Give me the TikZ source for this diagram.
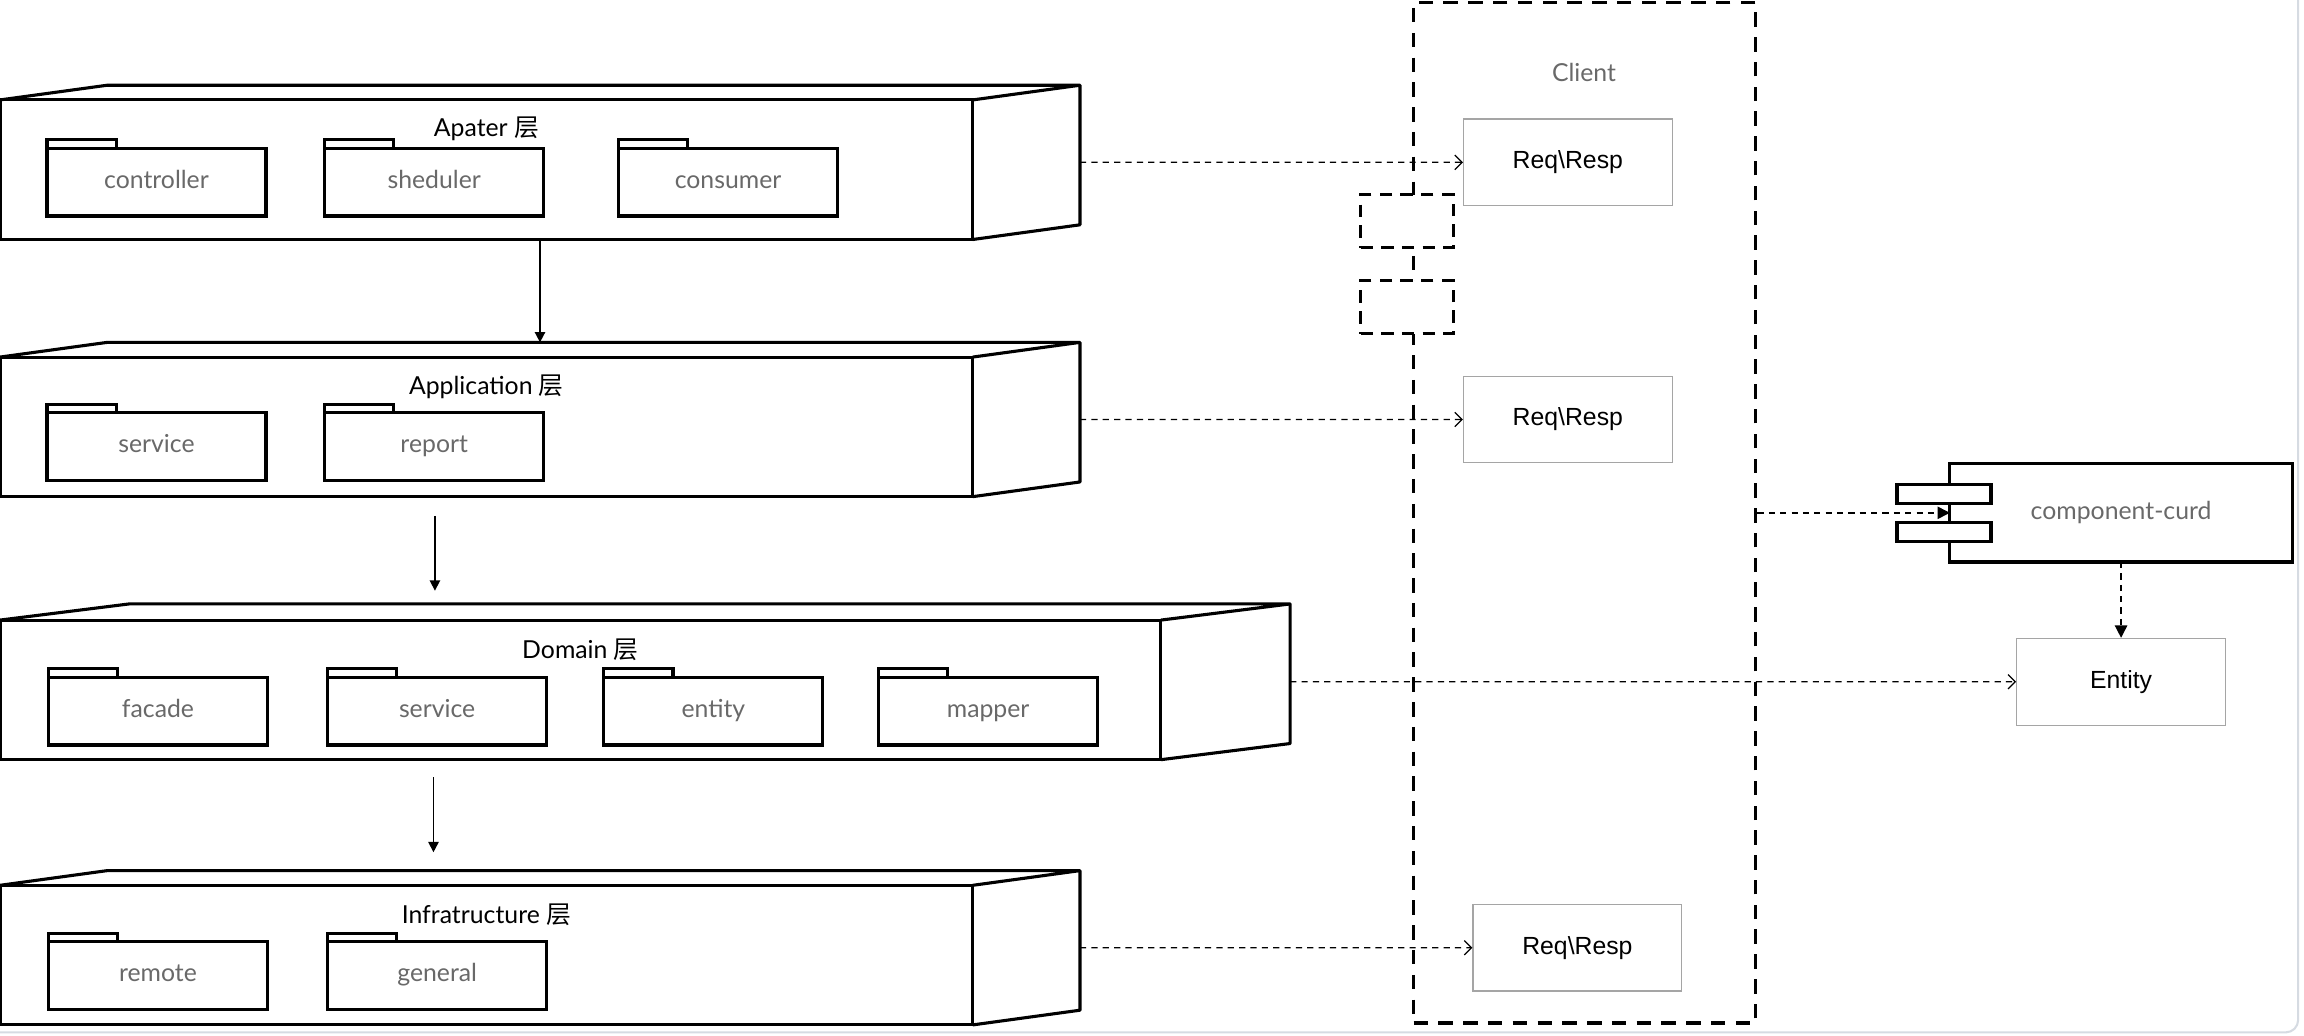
\documentclass[tikz,border=0pt]{standalone}
\usepackage{fontspec}
\setmainfont{Lato}
\newfontfamily\helv{Liberation Sans}
\newfontfamily\cjk{Noto Sans CJK SC}
\usepackage{tikz}
\definecolor{labelgray}{RGB}{105,105,105}
\definecolor{boxgray}{RGB}{165,165,165}
\definecolor{framegray}{RGB}{214,219,226}
\usetikzlibrary{
	arrows.meta,
	positioning,
	calc
}
\tikzset{
  % layer
	cstlayer/.style     ={draw, line width=1.5pt, minimum height=2.375cm, inner sep=0pt, outer sep=0pt},
	cstedge/.style      ={line width=1.5pt, line join=round},
	csttitle/.style     ={font=\fontsize{12}{14}\selectfont, text=black},
  % package
	cstpkg/.style       ={draw, line width=1.5pt, fill=white, minimum width=3.725cm, minimum height=1.15cm, outer sep=0pt, text=labelgray, text height=1.6ex, text depth=0.45ex, font=\fontsize{12}{14}\selectfont},
	csttab/.style       ={line width=1.5pt, fill=white},
  % client
	cstclient/.style    ={draw, line width=1.5pt, dash pattern=on 7pt off 5pt, minimum width=5.825cm, minimum height=17.36cm},
	cstport/.style      ={draw, line width=1.5pt, dash pattern=on 6pt off 4pt, fill=white, minimum width=1.575cm, minimum height=0.9cm},
	cstmsg/.style       ={draw=boxgray, line width=0.6pt, fill=white, minimum width=3.55cm, minimum height=1.475cm, font=\helv\fontsize{12}{14}\selectfont},
  % component
	cstcomp/.style      ={draw, line width=1.5pt, minimum width=5.825cm, minimum height=1.675cm, outer sep=0pt, text=labelgray, font=\fontsize{12}{14}\selectfont},
	cstcport/.style     ={draw, line width=1.5pt, fill=white, minimum width=1.6cm, minimum height=0.325cm},
  % arrow
	cstra/.style        ={-{Triangle[length=5pt,width=5pt]}, line width=0.8pt},
	cstdra/.style       ={-{Straight Barb[length=3.5pt,width=7pt]}, line width=0.6pt, dash pattern=on 3pt off 2.5pt},
	cstdfa/.style       ={-{Triangle[length=6pt,width=6pt]}, line width=0.7pt, dash pattern=on 3pt off 2.5pt}
}

\begin{document}
\begin{tikzpicture}
	\useasboundingbox (0,0) rectangle (39.2,17.625);
	% layers
	\node[cstlayer, minimum width=16.55cm] (apt) at (8.275,14.7375) {};
	\node[cstlayer, minimum width=16.55cm] (app) at (8.275,10.3625) {};
	\node[cstlayer, minimum width=19.75cm] (dom) at (9.875,5.8875) {};
	\node[cstlayer, minimum width=16.55cm] (inf) at (8.275,1.375) {};
	\foreach \n/\d/\h in {apt/1.825/0.25, app/1.825/0.25, dom/2.2/0.275, inf/1.825/0.25}{
		\draw[cstedge] (\n.north west) -- ++(\d,\h) -- ($(\n.north east)+(\d,\h)$) -- ($(\n.south east)+(\d,\h)$) -- (\n.south east)
			(\n.north east) -- ++(\d,\h);
		\coordinate (\n-r) at ($(\n.east)+(\d,0.5*\h)$);
	}
	\node[csttitle] (apt-title) at ($(apt.north)+(0,-0.5)$) {Apater {\cjk 层}};
	\node[csttitle] (app-title) at ($(app.north)+(0,-0.5)$) {Application {\cjk 层}};
	\node[csttitle] (dom-title) at ($(dom.north)+(0,-0.5)$) {Domain {\cjk 层}};
	\node[csttitle] (inf-title) at ($(inf.north)+(0,-0.5)$) {Infratructure {\cjk 层}};
	% packages
	\foreach \x/\t in {2.6625/controller, 7.3875/sheduler, 12.3875/consumer}{
		\node[cstpkg] (apt-\t) at (\x,14.525) {\t};
		\draw[csttab] (apt-\t.north west) rectangle ++(1.175,0.15);
	}
	\foreach \x/\t in {2.6625/service, 7.3875/report}{
		\node[cstpkg] (app-\t) at (\x,10.025) {\t};
		\draw[csttab] (app-\t.north west) rectangle ++(1.175,0.15);
	}
	\foreach \x/\t in {2.6875/facade, 7.4375/service, 12.1375/entity, 16.8125/mapper}{
		\node[cstpkg] (dom-\t) at (\x,5.525) {\t};
		\draw[csttab] (dom-\t.north west) rectangle ++(1.175,0.15);
	}
	\foreach \x/\t in {2.6875/remote, 7.4375/general}{
		\node[cstpkg] (inf-\t) at (\x,1.025) {\t};
		\draw[csttab] (inf-\t.north west) rectangle ++(1.175,0.15);
	}
	% layer arrows
	\coordinate (apt-b) at ($(apt.south)+(0.9125,0)$);
	\coordinate (app-t) at ($(app.north)+(0.9125,0.25)$);
	\coordinate (a2-s) at (7.4,8.85);
	\coordinate (a2-e) at (7.4,7.575);
	\coordinate (a3-s) at (7.375,4.4);
	\coordinate (a3-e) at (7.375,3.125);
	\draw[cstra] (apt-b) -- (app-t);
	\draw[cstra] (a2-s) -- (a2-e);
	\draw[cstra] (a3-s) -- (a3-e);
	% client
	\node[cstclient] (cli) at (26.9625,8.9) {};
	\node[text=labelgray, font=\fontsize{12}{14}\selectfont] (cli-title) at (26.95,16.4) {Client};
	\node[cstport] (cli-p1) at (23.9375,13.8625) {};
	\node[cstport] (cli-p2) at (23.9375,12.4) {};
	\node[cstmsg] (req1) at (26.675,14.8625) {Req\textbackslash Resp};
	\node[cstmsg] (req2) at (26.675,10.4875) {Req\textbackslash Resp};
	\node[cstmsg] (req3) at (26.8375,1.5) {Req\textbackslash Resp};
	% component
	\node[cstcomp] (comp) at (36.0875,8.9) {component-curd};
	\node[cstcport] (comp-p1) at ($(comp.west)+(-0.1,0.325)$) {};
	\node[cstcport] (comp-p2) at ($(comp.west)+(-0.1,-0.325)$) {};
	\node[cstmsg] (ent) at (36.0875,6.025) {Entity};
	% dependencies
	\draw[cstdra] (apt-r) -- (req1);
	\draw[cstdra] (app-r) -- (req2);
	\draw[cstdra] (inf-r) -- (req3);
	\draw[cstdra] (dom-r) -- (ent);
	\draw[cstdfa] (cli.east) -- (comp.west);
	\draw[cstdfa] (comp.south) -- (ent.north);
	% frame
	\draw[framegray, line width=1pt, rounded corners=6pt] (39.1,17.625) -- (39.1,0.06) -- (0,0.06);
\end{tikzpicture}
\end{document}
